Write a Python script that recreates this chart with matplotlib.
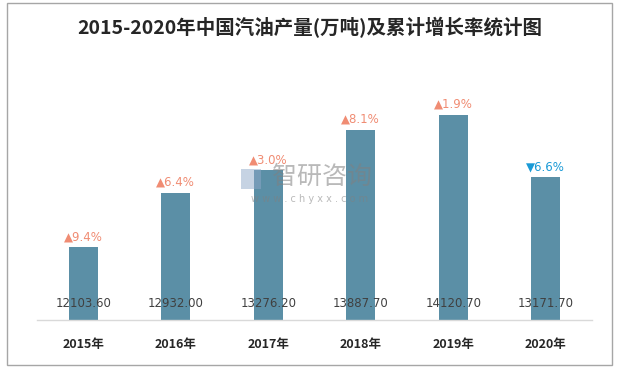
import matplotlib
matplotlib.use("Agg")
import matplotlib.pyplot as plt
from matplotlib.patches import Rectangle

plt.rcParams['font.family'] = ['Noto Sans CJK SC', 'DejaVu Sans']

years = ["2015年", "2016年", "2017年", "2018年", "2019年", "2020年"]
production = [12103.60, 12932.00, 13276.20, 13887.70, 14120.70, 13171.70]
growth = ["9.4%", "6.4%", "3.0%", "8.1%", "1.9%", "6.6%"]
direction = ["up", "up", "up", "up", "up", "down"]

bar_color = "#5B8FA6"
up_color = "#F08C73"
down_color = "#1A9AD6"

fig = plt.figure(figsize=(6.19, 3.70), dpi=100)
fig.patches.append(Rectangle((7/619, 1-365/370), (612-7)/619, (365-3)/370,
                             transform=fig.transFigure, fill=False,
                             edgecolor="#A6A6A6", linewidth=1.0))

ax = fig.add_axes([37/619, 1-320/370, (592-37)/619, 263/370])
x = list(range(len(years)))
ax.bar(x, production, width=0.31, color=bar_color)
ax.set_ylim(11000, 15000)
ax.set_xlim(-0.5, len(years) - 0.5)

for s in ["top", "right", "left"]:
    ax.spines[s].set_visible(False)
ax.spines["bottom"].set_color("#D9D9D9")
ax.spines["bottom"].set_linewidth(1.0)
ax.set_yticks([])
ax.set_xticks(x)
ax.set_xticklabels(years, fontsize=9, fontweight="bold", color="#262626")
ax.tick_params(axis="x", length=0, pad=13)

for i, (v, g, d) in enumerate(zip(production, growth, direction)):
    ax.annotate(f"{v:.2f}", (i, 11000), xytext=(0, 7), textcoords="offset points",
                ha="center", va="bottom", fontsize=8.5, color="#404040",
                family=["DejaVu Sans"])
    sym = "▲" if d == "up" else "▼"
    col = up_color if d == "up" else down_color
    ax.annotate(sym + g, (i, v), xytext=(0, 3), textcoords="offset points",
                ha="center", va="bottom", fontsize=8.5, color=col,
                family=["DejaVu Sans"])

# watermark
fig.patches.append(Rectangle((241/619, 1-189/370), 20/619, 20/370,
                             transform=fig.transFigure, facecolor="#8FA8C8",
                             edgecolor="none", alpha=0.5))
fig.text(322/619, 1-177/370, "智研咨询", ha="center", va="center", fontsize=18,
         color="#808080", alpha=0.55)
fig.text(310/619, 1-199/370, "w w w . c h y x x . c o m", ha="center", va="center",
         fontsize=7, color="#808080", alpha=0.55, family=["DejaVu Sans"])

fig.text(310/619, 1-28/370, "2015-2020年中国汽油产量(万吨)及累计增长率统计图",
         ha="center", va="center", fontsize=14, fontweight="bold", color="#262626")

fig.savefig("out.png", dpi=100)
